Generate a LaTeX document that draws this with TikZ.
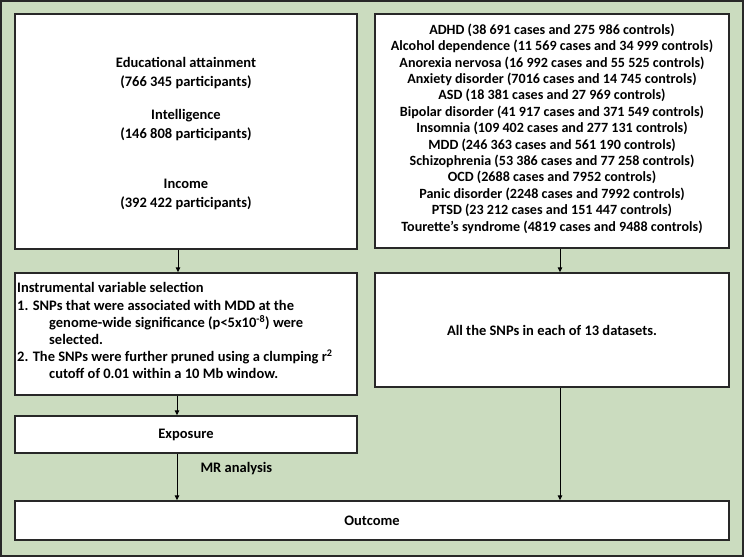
\documentclass[tikz,border=0pt]{standalone}
\usepackage{fontspec}
\setmainfont{Carlito}
\usetikzlibrary{arrows.meta}
\definecolor{bggreen}{RGB}{203,220,191}
\definecolor{frame}{RGB}{40,40,40}
\begin{document}
\begin{tikzpicture}[x=1pt,y=-1pt,
  box/.style={draw=frame, line width=1.4pt, fill=white, rectangle, inner sep=0pt},
  txt/.style={font=\bfseries\fontsize{14.5}{18.5}\selectfont, text=black},
  arr/.style={draw=black, line width=0.9pt, -{Triangle[length=5pt,width=4.5pt]}}]
\useasboundingbox (0,0) rectangle (744,557);
\draw[fill=bggreen, draw=frame, line width=1.4pt] (1,1) rectangle (743,556);
% boxes
\node[box, minimum width=342pt, minimum height=235pt] (A) at (186,131.5) {};
\node[box, minimum width=354pt, minimum height=234pt] (B) at (552,131) {};
\node[box, minimum width=342pt, minimum height=122pt] (C) at (186,334) {};
\node[box, minimum width=354pt, minimum height=114pt] (D) at (552,330) {};
\node[box, minimum width=342pt, minimum height=37pt] (E) at (186,434.5) {};
\node[box, minimum width=714pt, minimum height=39pt] (F) at (372,520.5) {};
% texts
\node[txt, align=center] (At) at ([yshift=-2pt]A.center) {Educational attainment\\(766 345 participants)\\[15pt]Intelligence\\(146 808 participants)\\[32pt]Income\\(392 422 participants)};
\node[txt, align=center, font=\bfseries\fontsize{14.1}{16.4}\selectfont] (Bt) at ([yshift=2.5pt]B.center) {ADHD (38 691 cases and 275 986 controls)\\
Alcohol dependence (11 569 cases and 34 999 controls)\\
Anorexia nervosa (16 992 cases and 55 525 controls)\\
Anxiety disorder (7016 cases and 14 745 controls)\\
ASD (18 381 cases and 27 969 controls)\\
Bipolar disorder (41 917 cases and 371 549 controls)\\
Insomnia (109 402 cases and 277 131 controls)\\
MDD (246 363 cases and 561 190 controls)\\
Schizophrenia (53 386 cases and 77 258 controls)\\
OCD (2688 cases and 7952 controls)\\
Panic disorder (2248 cases and 7992 controls)\\
PTSD (23 212 cases and 151 447 controls)\\
Tourette’s syndrome (4819 cases and 9488 controls)};
\node[txt, align=left, anchor=north west, inner sep=0pt, font=\bfseries\fontsize{14.5}{17.2}\selectfont] (Ct) at (17,282.5) {Instrumental variable selection\\
1. SNPs that were associated with MDD at the\\
\hspace*{32pt}genome-wide significance (p<5x10\textsuperscript{-8}) were\\
\hspace*{32pt}selected.\\
2. The SNPs were further pruned using a clumping r\textsuperscript{2}\\
\hspace*{32pt}cutoff of 0.01 within a 10 Mb window.};
\node[txt] (Dt) at (D.center) {All the SNPs in each of 13 datasets.};
\node[txt] (Et) at (E.center) {Exposure};
\node[txt] (Ft) at (F.center) {Outcome};
% connectors
\draw[arr] (178,0 |- A.south) -- (178,0 |- C.north);
\draw[arr] (560,0 |- B.south) -- (560,0 |- D.north);
\draw[arr] (177,0 |- C.south) -- (177,0 |- E.north);
\draw[arr] (177,0 |- E.south) -- (177,0 |- F.north);
\draw[arr] (560,0 |- D.south) -- (560,0 |- F.north);
\node[txt, anchor=west] (mr) at (197,469) {MR analysis};
\end{tikzpicture}
\end{document}
